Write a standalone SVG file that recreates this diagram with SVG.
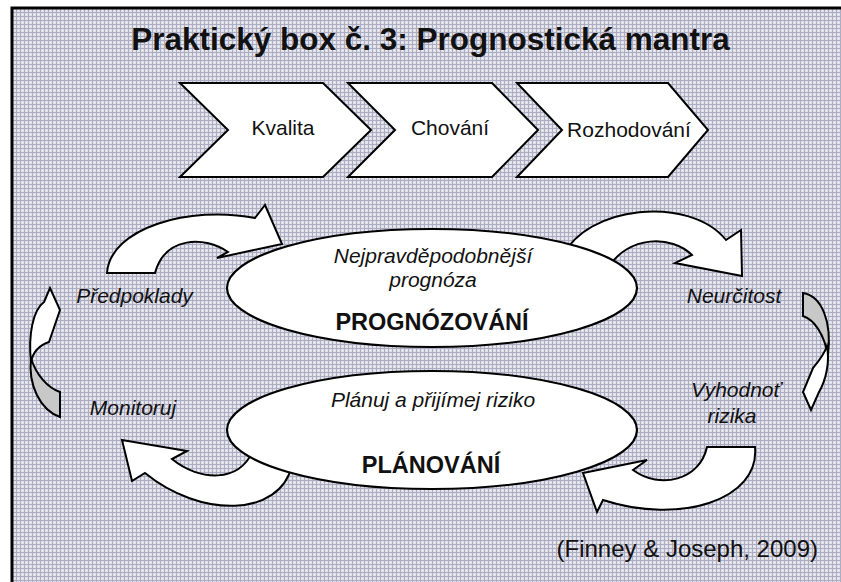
<svg xmlns="http://www.w3.org/2000/svg" width="841" height="582" viewBox="0 0 841 582">
  <defs>
    <!-- fine woven grid used as the slide background -->
    <pattern id="weave" width="4" height="4" patternUnits="userSpaceOnUse">
      <rect width="4" height="4" fill="#e0e0e8"/>
      <rect width="4" height="1" fill="#acacc2"/>
      <rect width="1" height="4" fill="#acacc2"/>
      <rect x="2" y="2" width="1" height="1" fill="#f4f4f8"/>
    </pattern>
    <style>
      text { font-family: "Liberation Sans", Arial, sans-serif; fill: #111; }
      .title { font-size: 31.5px; font-weight: bold; text-anchor: middle; }
      .step { font-size: 21px; text-anchor: middle; }
      .lbl { font-size: 21px; font-style: italic; text-anchor: middle; }
      .head { font-size: 23.5px; font-weight: bold; text-anchor: middle; }
      .cite { font-size: 24px; text-anchor: end; }
      .chev { fill: #fff; stroke: #000; stroke-width: 2; stroke-linejoin: miter; }
      .oval { fill: #fff; stroke: #000; stroke-width: 2.2; }
      .arr { fill: #fff; stroke: #000; stroke-width: 2; stroke-linejoin: miter; }
      .back { fill: #c8c8c8; stroke: #000; stroke-width: 2; }
    </style>
  </defs>

  <!-- page and framed background -->
  <rect width="841" height="582" fill="#fff"/>
  <rect x="12" y="8" width="860" height="600" fill="url(#weave)" stroke="#000" stroke-width="3"/>

  <text class="title" x="430.5" y="50">Praktický box č. 3: Prognostická mantra</text>

  <!-- process chevrons -->
  <g id="kvalita">
    <polygon class="chev" points="180,83 323,83 371,130 323,177 180,177 228,130"/>
    <text class="step" x="283" y="135">Kvalita</text>
  </g>
  <g id="chovani">
    <polygon class="chev" points="348,83 492,83 538,130 492,177 348,177 395,130"/>
    <text class="step" x="450" y="135">Chování</text>
  </g>
  <g id="rozhodovani">
    <polygon class="chev" points="517,83 668,83 708,130 668,177 517,177 562,130"/>
    <text class="step" x="629" y="137">Rozhodování</text>
  </g>

  <!-- curved cycle arrows -->
  <g id="connectors">
    <path class="arr" d="M107,273 C110,228 190,205 255,218 L265,205 L282,244 L217,258 L228,252 C205,236 165,236 155,273 Z"/>
    <path class="arr" d="M562,258 C585,205 690,195 726,240 L741,230 L742,276 L675,263 L692,255 C672,235 628,235 608,268 Z"/>
    <path class="back" d="M803,293 C822,296 832,322 828,355 C824,335 815,320 803,316 Z"/>
    <path class="arr" d="M827,346 C830,362 826,380 819,392 L811,410 L803,392 L813,368 C818,362 824,355 827,346 Z"/>
    <path class="arr" d="M707,447 L755,447 C760,500 680,525 603,500 L597,512 L583,473 L647,460 L633,470 C660,490 700,480 707,447 Z"/>
    <path class="arr" d="M292,465 C280,518 200,518 145,473 L132,481 L122,440 L187,451 L172,459 C200,482 240,482 252,452 Z"/>
    <path class="back" d="M31,358 C28,385 40,410 60,417 L60,392 C48,388 36,375 31,358 Z"/>
    <path class="arr" d="M31,362 C28,335 33,310 44,302 L50,288 L60,310 L49,342 C40,345 33,352 31,362 Z"/>
  </g>

  <!-- stage ellipses -->
  <g id="prognozovani">
    <ellipse class="oval" cx="432" cy="288" rx="205" ry="59"/>
    <text class="lbl" x="433" y="263">Nejpravděpodobnější</text>
    <text class="lbl" x="433" y="287">prognóza</text>
    <text class="head" x="432" y="330">PROGNÓZOVÁNÍ</text>
  </g>
  <g id="planovani">
    <ellipse class="oval" cx="432" cy="430" rx="205" ry="59"/>
    <text class="lbl" x="433" y="407">Plánuj a přijímej riziko</text>
    <text class="head" x="431" y="473">PLÁNOVÁNÍ</text>
  </g>

  <!-- cycle step labels -->
  <g id="predpoklady"><text class="lbl" x="134.5" y="303">Předpoklady</text></g>
  <g id="neurcitost"><text class="lbl" x="734" y="303">Neurčitost</text></g>
  <g id="vyhodnot"><text class="lbl" x="736" y="397">Vyhodnoť</text><text class="lbl" x="732" y="423">rizika</text></g>
  <g id="monitoruj"><text class="lbl" x="133" y="415">Monitoruj</text></g>

  <text class="cite" x="818" y="557">(Finney &amp; Joseph, 2009)</text>
</svg>
